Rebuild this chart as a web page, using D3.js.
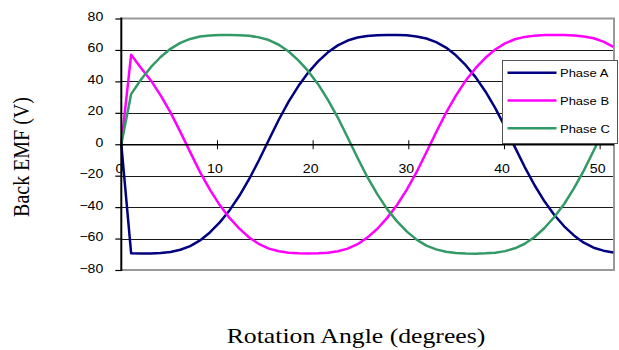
<!DOCTYPE html>
<html>
<head>
<meta charset="utf-8">
<script src="https://cdn.jsdelivr.net/npm/d3@7"></script>
<style>
  html, body { margin: 0; padding: 0; background: #fff; }
  svg { display: block; }
</style>
</head>
<body>
<svg id="chart" width="619" height="350"></svg>
<script>
// Rotation angle (degrees) of each sample
const angles = [0, 1.03, 2.06, 3.09, 4.11, 5.14, 6.17, 7.2, 8.23, 9.26,
  10.29, 11.31, 12.34, 13.37, 14.4, 15.43, 16.46, 17.49, 18.51, 19.54,
  20.57, 21.6, 22.63, 23.66, 24.69, 25.71, 26.74, 27.77, 28.8, 29.83,
  30.86, 31.89, 32.91, 33.94, 34.97, 36.0, 37.03, 38.06, 39.09, 40.11,
  41.14, 42.17, 43.2, 44.23, 45.26, 46.29, 47.31, 48.34, 49.37, 50.4, 51.43];

// Back EMF per phase (V)
const phaseA = [0, -69.4, -69.5, -69.5, -69.2, -68.5, -67.1, -64.8, -61.2, -56.1,
  -49.7, -42.1, -32.8, -22.1, -10.0, 2.9, 15.6, 27.1, 37.0, 45.6,
  52.7, 58.5, 62.9, 66.0, 67.9, 68.9, 69.4, 69.5, 69.5, 69.3,
  68.6, 67.3, 65.0, 61.5, 56.6, 50.3, 42.7, 33.6, 23.0, 11.1,
  -1.8, -14.5, -26.1, -36.3, -45.0, -52.2, -58.0, -62.6, -65.8, -67.7, -68.8];

const phaseB = [0, 57.0, 48.5, 40.6, 31.1, 20.3, 7.9, -5.0, -17.7, -28.9,
  -38.7, -46.9, -53.7, -59.3, -63.5, -66.4, -68.1, -69.0, -69.4, -69.5,
  -69.4, -69.0, -68.1, -66.4, -63.6, -59.4, -53.9, -47.0, -38.8, -29.0,
  -17.8, -5.1, 7.6, 20.0, 30.9, 40.5, 48.4, 55.0, 60.3, 64.2,
  66.8, 68.3, 69.1, 69.5, 69.5, 69.5, 69.2, 68.6, 67.4, 65.3, 62.0];

const phaseC = [0, 31.9, 41.2, 49.0, 55.5, 60.7, 64.5, 67.0, 68.5, 69.2,
  69.5, 69.5, 69.4, 69.0, 68.0, 66.3, 63.3, 59.0, 53.4, 46.5,
  38.2, 28.2, 17.0, 4.3, -8.6, -20.8, -31.6, -41.1, -48.9, -55.4,
  -60.7, -64.5, -66.9, -68.4, -69.2, -69.5, -69.6, -69.4, -69.0, -68.0,
  -66.2, -63.3, -59.0, -53.3, -46.3, -38.0, -28.1, -16.8, -4.1, 8.7, 21.0];

const seriesNames = ["Phase A", "Phase B", "Phase C"];
const seriesColors = ["#000080", "#FF00FF", "#339966"];
const seriesValues = [phaseA, phaseB, phaseC];

const xTicks = [0, 10, 20, 30, 40, 50];
const yTicks = [-80, -60, -40, -20, 0, 20, 40, 60, 80];
const xMax = 51.5;

const plot = { left: 121.3, right: 614, top: 18.5, bottom: 270 };
const stretch = 1.12;   // horizontal glyph stretch used for all labels

const svg = d3.select("#chart");

const x = d3.scaleLinear().domain([0, xMax]).range([plot.left, plot.right]);
const y = d3.scaleLinear().domain([-80, 80]).range([plot.bottom, plot.top]);

// Horizontal gridlines
svg.append("g")
  .selectAll("line")
  .data(yTicks.filter(v => v > -80 && v < 80))
  .join("line")
  .attr("x1", plot.left).attr("x2", plot.right)
  .attr("y1", d => Math.round(y(d)) + 0.5).attr("y2", d => Math.round(y(d)) + 0.5)
  .attr("stroke", "#1a1a1a").attr("stroke-width", 1);

// Plot frame (top, right, bottom)
const frame = svg.append("g").attr("fill", "none").attr("stroke", "#999").attr("stroke-width", 2);
frame.append("line").attr("x1", plot.left).attr("x2", plot.right + 1).attr("y1", plot.top).attr("y2", plot.top);
frame.append("line").attr("x1", plot.right).attr("x2", plot.right).attr("y1", plot.top).attr("y2", plot.bottom + 1);
frame.append("line").attr("x1", plot.left).attr("x2", plot.right + 1).attr("y1", plot.bottom).attr("y2", plot.bottom);

// Series curves
const line = d3.line()
  .x((d, i) => x(angles[i]))
  .y(d => y(d));

svg.append("g")
  .selectAll("path")
  .data(seriesValues)
  .join("path")
  .attr("d", d => line(d))
  .attr("fill", "none")
  .attr("stroke", (d, i) => seriesColors[i])
  .attr("stroke-width", 2.5)
  .attr("stroke-linejoin", "round");

const labelFont = "'Liberation Sans', Arial, sans-serif";

// X axis through zero, ticks crossing the line
const xAxis = svg.append("g")
  .attr("transform", `translate(0,${y(0)})`)
  .call(d3.axisBottom(x).tickValues(xTicks).tickSize(5).tickSizeOuter(0).tickFormat(d3.format("d")));
xAxis.select(".domain").remove();
xAxis.selectAll(".tick line").attr("y1", -4).attr("y2", 5).attr("stroke", "#000");
xAxis.selectAll(".tick text")
  .attr("y", 0).attr("dy", 0)
  .attr("transform", `translate(-2.5,28.5) scale(${stretch},1)`)
  .attr("font-family", labelFont).attr("font-size", 12.6).attr("fill", "#000");
xAxis.append("line")
  .attr("x1", plot.left).attr("x2", plot.right)
  .attr("y1", 0.5).attr("y2", 0.5)
  .attr("stroke", "#000").attr("stroke-width", 1.3);

// Y axis on the left
const yAxis = svg.append("g")
  .attr("transform", `translate(${plot.left},0)`)
  .call(d3.axisLeft(y).tickValues(yTicks).tickSize(6).tickSizeOuter(0).tickFormat(d3.format("d")));
yAxis.select(".domain").remove();
yAxis.selectAll(".tick line").attr("stroke", "#000").attr("stroke-width", 1.2);
yAxis.selectAll(".tick text")
  .attr("x", 0).attr("dy", 0)
  .attr("transform", `translate(-18,2) scale(${stretch},1)`)
  .attr("font-family", labelFont).attr("font-size", 12.6).attr("fill", "#000");
yAxis.append("line")
  .attr("x1", 0).attr("x2", 0)
  .attr("y1", plot.top - 1).attr("y2", plot.bottom + 1)
  .attr("stroke", "#000").attr("stroke-width", 2);

// Axis titles
svg.append("text")
  .attr("transform", `translate(356,343) scale(1.17,1)`)
  .attr("text-anchor", "middle")
  .attr("font-family", "'Liberation Serif', 'Times New Roman', serif")
  .attr("font-size", 22)
  .attr("fill", "#000")
  .text("Rotation Angle (degrees)");

svg.append("text")
  .attr("transform", `translate(29,157) scale(1.12,1) rotate(-90)`)
  .attr("text-anchor", "middle")
  .attr("font-family", "'Liberation Serif', 'Times New Roman', serif")
  .attr("font-size", 20)
  .attr("fill", "#000")
  .text("Back EMF (V)");

// Legend
const legend = svg.append("g").attr("transform", "translate(502.5,60.5)");
legend.append("rect")
  .attr("width", 115).attr("height", 83)
  .attr("fill", "#fff").attr("stroke", "#555").attr("stroke-width", 1);
const entry = legend.selectAll("g.entry")
  .data(seriesNames)
  .join("g")
  .attr("class", "entry")
  .attr("transform", (d, i) => `translate(0,${12.2 + i * 27.8})`);
entry.append("line")
  .attr("x1", 5).attr("x2", 54)
  .attr("stroke", (d, i) => seriesColors[i])
  .attr("stroke-width", 2.5);
entry.append("text")
  .attr("transform", `translate(57.5,4.2) scale(${stretch},1)`)
  .attr("font-family", labelFont).attr("font-size", 11.6).attr("fill", "#000")
  .text(d => d);
</script>
</body>
</html>
